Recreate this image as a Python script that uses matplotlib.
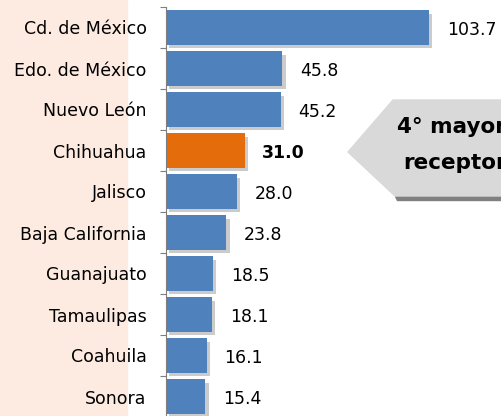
import matplotlib.pyplot as plt
from matplotlib.patches import Polygon, Rectangle
import matplotlib.patheffects as pe

estados = ["Cd. de México", "Edo. de México", "Nuevo León", "Chihuahua", "Jalisco",
           "Baja California", "Guanajuato", "Tamaulipas", "Coahuila", "Sonora"]
valores = [103.7, 45.8, 45.2, 31.0, 28.0, 23.8, 18.5, 18.1, 16.1, 15.4]
destacado = "Chihuahua"
callout_lines = ["4° mayor", "receptor"]

W, H = 502, 416
fig = plt.figure(figsize=(W / 100, H / 100), dpi=100)

# peach band behind the state names
fig.patches.append(Rectangle((0, 0), 127 / W, 1, transform=fig.transFigure,
                             color="#FDEAE1", zorder=0))

ax = fig.add_axes([166 / W, -1 / H, 1 - 166 / W, 410 / H])
ax.set_zorder(1)
ax.patch.set_alpha(0)

colors = ["#E46C0A" if e == destacado else "#4F81BD" for e in estados]
pos = list(range(len(estados)))
bars = ax.barh(pos, valores, height=0.85, color=colors, zorder=2)
for b in bars:
    b.set_path_effects([pe.SimplePatchShadow(offset=(2.5, -2.5), shadow_rgbFace="#8c8c8c",
                                             alpha=0.45), pe.Normal()])

for p, v, e in zip(pos, valores, estados):
    ax.text(v + 7.0, p + 0.05, f"{v:.1f}", va="center", ha="left", fontsize=12.5,
            color="black", fontweight="bold" if e == destacado else "normal")

ax.set_xlim(0, 132.5)
ax.set_ylim(9.5, -0.5)
ax.set_yticks([p - 0.5 for p in pos] + [9.5])
ax.set_yticklabels([])
ax.set_yticks(pos, minor=True)
ax.set_yticklabels(estados, minor=True, fontsize=12.5)
ax.tick_params(axis="y", which="minor", length=0, pad=14)
ax.tick_params(axis="y", which="major", length=4, width=0.8, color="#7f7f7f")
ax.set_xticks([])
for s in ["top", "right", "bottom"]:
    ax.spines[s].set_visible(False)
ax.spines["left"].set_color("#7f7f7f")

# callout arrow
def fx(x):
    return x / W

def fy(y):
    return 1 - y / H

shadow = Polygon([(fx(395), fy(196)), (fx(W + 5), fy(196)), (fx(W + 5), fy(200)), (fx(397), fy(200))],
                 closed=True, transform=fig.transFigure, color="#808080", zorder=3)
arrow = Polygon([(fx(348), fy(152)), (fx(393), fy(100)), (fx(W + 5), fy(100)),
                 (fx(W + 5), fy(196)), (fx(395), fy(196))],
                closed=True, transform=fig.transFigure, color="#D9D9D9", zorder=4)
fig.patches.extend([shadow, arrow])
fig.text(fx(397), fy(127), callout_lines[0], fontsize=15.5, fontweight="bold",
         va="center", ha="left", zorder=5)
fig.text(fx(403), fy(163), callout_lines[1], fontsize=15.5, fontweight="bold",
         va="center", ha="left", zorder=5)

fig.savefig("out.png", dpi=100)
